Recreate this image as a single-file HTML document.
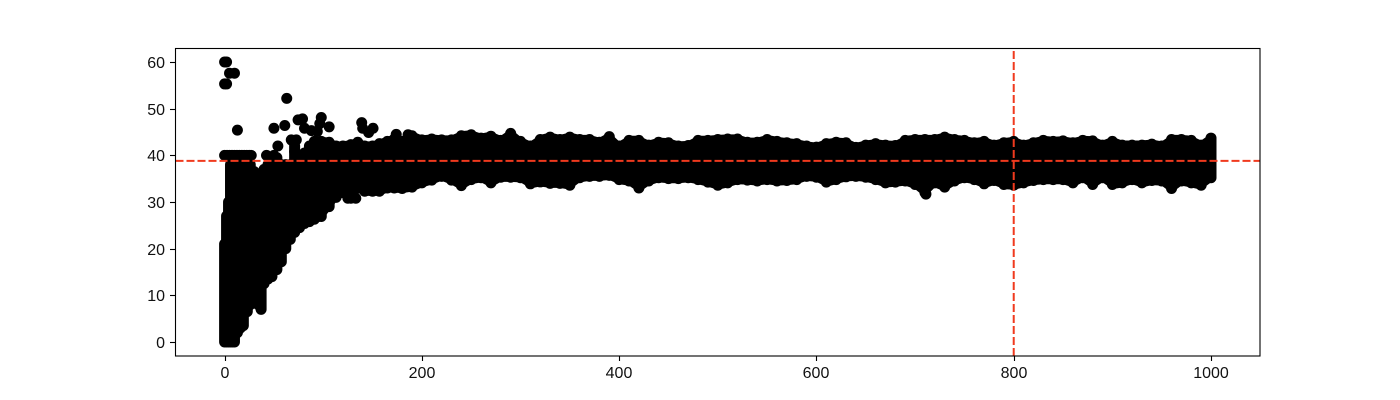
<!DOCTYPE html>
<html lang="en">
<head>
<meta charset="utf-8">
<title>Scatter chart with reference lines</title>
<style>
html,body{margin:0;padding:0;background:#fff;}
svg{display:block;}
text{font-family:"Liberation Sans",sans-serif;font-size:16px;fill:#111;}
</style>
</head>
<body>
<svg id="chart" width="1400" height="400" viewBox="0 0 1400 400" xmlns="http://www.w3.org/2000/svg">
<rect x="0" y="0" width="1400" height="400" fill="#fff"/>
<g id="marks"></g>
<g id="refs"></g>
<rect x="175.5" y="48.5" width="1084.5" height="307.5" fill="none" stroke="#000" stroke-width="1.1"/>
<g id="xticks"></g>
<g id="yticks"></g>
</svg>
<script>
const xTicks = [0, 200, 400, 600, 800, 1000];
const yTicks = [0, 10, 20, 30, 40, 50, 60];
const refX = 800;
const refY = 38.8;

const columnX = [0,2,4,6,8,10,13,16,19,23,26,30,34,37,40,44,48,53,57.5,62,66.6,71,76,81,86,91,98,106,113,120,128,135,142,150,157,165,172,180,
190,200,210,220,230,240,250,260,270,280,290,300,310,320,330,340,350,360,370,380,390,400,410,420,430,440,450,460,470,480,
490,500,510,520,530,540,550,560,570,580,590,600,610,620,630,640,650,660,670,680,690,700,710,720,730,740,750,760,770,780,
790,800,810,820,830,840,850,860,870,880,890,900,910,920,930,940,950,960,970,980,990,1000];

const columnLow = [0,0,0,0,0,0,2,3,3.5,6.5,8,9,8,7,12.5,13.5,14,15.5,17.2,20,22,23.5,24.5,25.4,25.8,26.3,26.9,29,31,32,30.8,33,32.3,32.3,32.3,33,33,32.9,
33.2,34.1,34.7,35.5,34.7,33.5,34.8,35.2,34.1,35.3,35.3,35.2,33.9,34.3,34,34,33.6,35.2,35.5,35.5,35.7,34.8,34.5,33,34.5,35.2,35,35,35.2,34.8,
34.25,33.6,34.1,34.8,34.7,34.5,34.8,34.5,34.6,34.8,35.5,35.3,34.25,34.8,35.4,35.5,35.3,34.8,34.1,34.25,34.5,33.75,32,34.1,33.2,34.5,35.2,34.8,33.9,34.6,
33.75,33.6,34.1,34.6,34.8,34.8,34.8,34.1,35.2,33.75,35.2,33.75,34.1,34.8,34.1,34.6,34.5,32.9,34.5,34.1,33.6,35.2];

const columnHigh = [21,27,30,38,38.5,38.5,38.5,38.5,38.5,38.5,38,36.5,36,35.5,37,38,38.5,39.5,38,38,38,42,40,40.5,42,43,43,42.8,42,42,42.3,42.8,42,42,42.5,43,43.5,43,
44.2,43.3,43.5,43.3,43.3,44.2,44.4,43.7,44.1,43.2,44.7,43,42,43.4,43.9,43.4,43.9,43.4,43.4,42.8,44,42,43.2,43.2,42.2,42.8,42.7,42,42.1,43.2,
43.2,43.4,43.5,43.5,42.8,42.8,43.4,43,42.7,42.5,42,41.75,42.5,42.8,42.7,41.7,42.2,42.5,42.2,42.1,43.2,43.4,43.4,43.4,43.9,43.4,43.2,42.7,43,42.2,
42.7,43,42.2,42.7,43.2,43,43.1,42.7,43.2,43.1,42.2,43,42.2,42.2,42.2,42.4,42,43.4,43.4,43.2,42.2,43.7];

const pointX = [0,2,5,10,0,2,13,63,61,50,74.5,79,98,96.5,106,81,88,94,139,140,150.5,146,54,67.6,72.7,71,42.5,50,174,186,0,2.5,5,7.5,10,12.5,15,17.5,20,22.5,25,27,711,125,133];
const pointY = [60,60,57.6,57.6,55.3,55.3,45.4,52.2,46.4,45.8,47.6,47.8,48.1,46.8,46.1,45.8,45.3,45.1,47,45.8,45.8,44.9,42,43.3,43.3,40.8,40,40,44.5,44.4,40,40,40,40,40,40,40,40,40,40,40,40,31.7,30.8,30.8];

const NS = 'http://www.w3.org/2000/svg';
const MARKER_D = 11;
const ENVELOPE_TOP_FROM = 86;
const ENVELOPE_PAD = 4.6;
function sx(v){ return 224.6 + v * 0.9864; }
function sy(v){ return 342 - v * 4.6667; }
function mk(tag, attrs, parent){
  const el = document.createElementNS(NS, tag);
  for (const k in attrs) el.setAttribute(k, attrs[k]);
  parent.appendChild(el);
  return el;
}

const marks = document.getElementById('marks');

let topEdge = [];
let bottomEdge = [];
columnX.forEach(function(x, i){
  if (x >= ENVELOPE_TOP_FROM) topEdge.push(sx(x) + ',' + (sy(columnHigh[i]) - ENVELOPE_PAD));
  bottomEdge.unshift(sx(x) + ',' + (sy(columnLow[i]) + ENVELOPE_PAD));
});
const envelope = mk('polygon', {points: topEdge.concat(bottomEdge).join(' '), fill: '#000'}, marks);



columnX.forEach(function(x, i){
  const col = mk('line', {x1: sx(x), x2: sx(x), y1: sy(columnLow[i]), y2: sy(columnHigh[i]), stroke: '#000', 'stroke-width': MARKER_D, 'stroke-linecap': 'round'}, marks);
  
  
});
pointX.forEach(function(x, i){
  const dot = mk('circle', {cx: sx(x), cy: sy(pointY[i]), r: MARKER_D / 2, fill: '#000'}, marks);
  
  
});

const refs = document.getElementById('refs');
const hLine = mk('line', {x1: 175.5, x2: 1260, y1: sy(refY), y2: sy(refY), stroke: '#f03a1e', 'stroke-width': 2, 'stroke-dasharray': '8 3'}, refs);


const vLine = mk('line', {x1: sx(refX), x2: sx(refX), y1: 356, y2: 48, stroke: '#f03a1e', 'stroke-width': 2, 'stroke-dasharray': '8 3'}, refs);



const xg = document.getElementById('xticks');
xTicks.forEach(function(v){
  const px = Math.round(sx(v)) + 0.5;
  const tick = mk('line', {x1: px, x2: px, y1: 356, y2: 361, stroke: '#000', 'stroke-width': 1.1}, xg);
  
  
  const label = mk('text', {x: px - 0.5, y: 378, 'text-anchor': 'middle'}, xg);
  
  
  label.textContent = String(v);
});

const yg = document.getElementById('yticks');
yTicks.forEach(function(v){
  const py = Math.round(sy(v)) + 0.5;
  const tick = mk('line', {x1: 170, x2: 175.5, y1: py, y2: py, stroke: '#000', 'stroke-width': 1.1}, yg);
  
  
  const label = mk('text', {x: 165, y: py + 5.5, 'text-anchor': 'end'}, yg);
  
  
  label.textContent = String(v);
});
</script>
</body>
</html>
